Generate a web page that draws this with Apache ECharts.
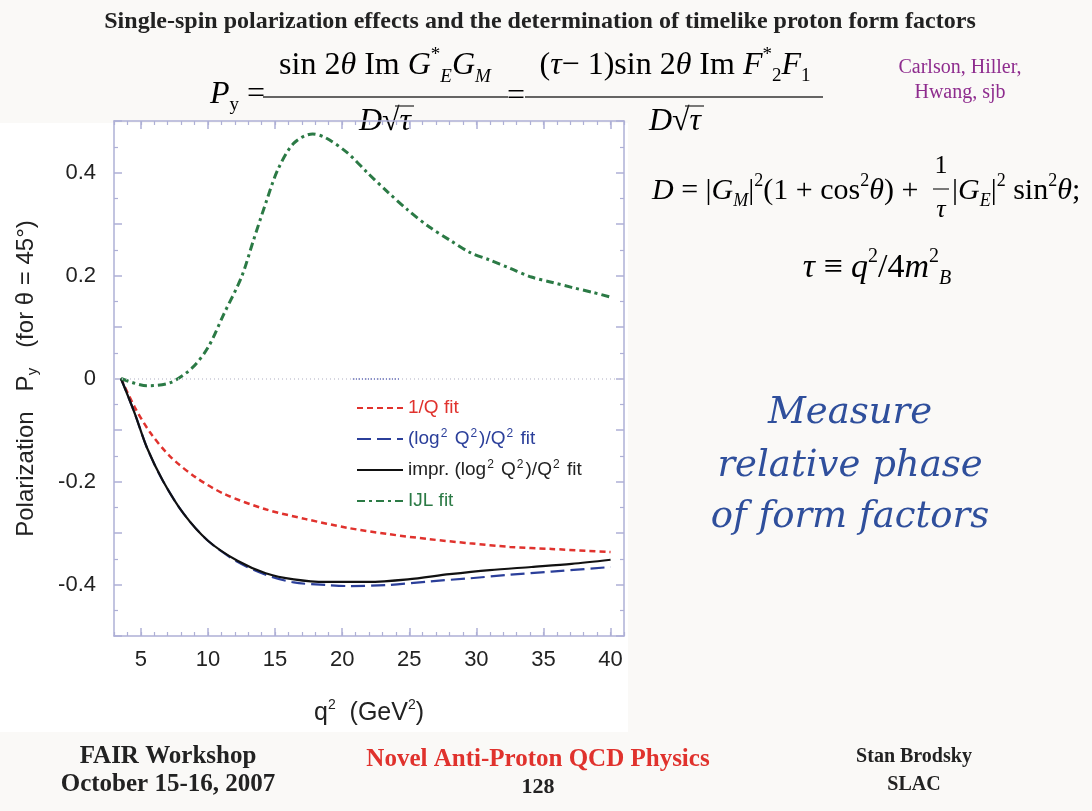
<!DOCTYPE html>
<html>
<head>
<meta charset="utf-8">
<script src="https://cdn.jsdelivr.net/npm/echarts@6/dist/echarts.min.js"></script>
<style>
    html, body { margin: 0; padding: 0; background: #faf9f7; }
    #chart { width: 1092px; height: 811px; }
</style>
</head>
<body>
<div id="chart"></div>
<script>
// values: q^2 in GeV^2, polarization P_y
var qRed = [3.52, 4.55, 5.75, 7.25, 9.1, 11.2, 14.3, 17.3, 20.4, 23.4, 26.5, 29.5, 32.5, 35.6, 40];
var pRed = [0, -0.056, -0.107, -0.153, -0.192, -0.224, -0.254, -0.273, -0.29, -0.302, -0.312, -0.32, -0.327, -0.331, -0.337];

var qBlue = [3.52, 4.55, 5.45, 6.65, 8.2, 10, 12.2, 14.3, 16.4, 18.8, 20.4, 23.4, 26.5, 29.5, 32.5, 35.6, 40];
var pBlue = [0, -0.068, -0.134, -0.199, -0.263, -0.315, -0.356, -0.381, -0.396, -0.401, -0.403, -0.401, -0.394, -0.388, -0.381, -0.375, -0.366];

var qBlack = [3.52, 4.55, 5.45, 6.65, 8.2, 10, 12.2, 14.3, 16.4, 18.8, 21.9, 24.9, 28, 31, 34.1, 37.1, 40];
var pBlack = [0, -0.068, -0.134, -0.199, -0.263, -0.315, -0.354, -0.378, -0.39, -0.395, -0.395, -0.39, -0.38, -0.372, -0.366, -0.36, -0.352];

var qGreen = [3.52, 5.45, 7.2, 8.8, 10, 11.2, 12.5, 13.4, 14.3, 15.2, 16.4, 17.8, 18.8, 20.4, 21.9, 23.4, 24.9, 26.5, 28, 29.5, 31, 32.5, 34.1, 35.6, 37.1, 38.7, 40];
var pGreen = [0, -0.014, -0.008, 0.02, 0.06, 0.126, 0.197, 0.269, 0.34, 0.405, 0.457, 0.475, 0.467, 0.438, 0.399, 0.362, 0.327, 0.294, 0.269, 0.245, 0.23, 0.214, 0.197, 0.187, 0.177, 0.167, 0.158];

var seriesNames = ['1/Q fit', '(log\u00b2 Q\u00b2)/Q\u00b2 fit', 'impr. (log\u00b2 Q\u00b2)/Q\u00b2 fit', 'IJL fit'];
var xTicks = [5, 10, 15, 20, 25, 30, 35, 40];
var yTicks = [-0.4, -0.2, 0, 0.2, 0.4];

(function(global) {
    var frameColor = '#aeb0d6';
    var mathFont = 'Liberation Serif';

    function zip(xs, ys) {
        var out = [];
        for (var i = 0; i < xs.length; i++) {
            out.push([xs[i], ys[i]]);
        }
        return out;
    }

    // rich styles shared by the formula texts
    function mathRich(size) {
        var small = Math.round(size * 0.6);
        return {
            n: { fontFamily: mathFont, fontSize: size, color: '#222', lineHeight: size + 8 },
            i: { fontFamily: mathFont, fontSize: size, fontStyle: 'italic', color: '#222', lineHeight: size + 8 },
            sup: { fontFamily: mathFont, fontSize: small, color: '#222', verticalAlign: 'top', lineHeight: small },
            sub: { fontFamily: mathFont, fontSize: small, color: '#222', verticalAlign: 'bottom', lineHeight: small },
            subi: { fontFamily: mathFont, fontSize: small, fontStyle: 'italic', color: '#222', verticalAlign: 'bottom', lineHeight: small }
        };
    }

    var texts = {
        plain: function(x, y, str, opts) {
            return {
                type: 'text', x: x, y: y, silent: true,
                style: {
                    text: str,
                    fill: opts.color || '#222',
                    fontFamily: opts.family || mathFont,
                    fontSize: opts.size || 20,
                    fontWeight: opts.weight || 'normal',
                    fontStyle: opts.style || 'normal',
                    textAlign: opts.align || 'center',
                    textVerticalAlign: 'middle'
                }
            };
        },
        math: function(x, y, str, size, align) {
            return {
                type: 'text', x: x, y: y, silent: true,
                style: {
                    text: str,
                    rich: mathRich(size),
                    textAlign: align || 'center',
                    textVerticalAlign: 'middle'
                }
            };
        },
        bar: function(x1, x2, y) {
            return {
                type: 'line', silent: true,
                shape: { x1: x1, y1: y, x2: x2, y2: y },
                style: { stroke: '#333', lineWidth: 1.3 }
            };
        }
    };

    var slide = {
        build: function() {
            var hand = { size: 37, family: 'DejaVu Serif', style: 'italic', color: '#2f4f9c' };
            return [
                { type: 'rect', silent: true, z: -10, shape: { x: 0, y: 123, width: 628, height: 609 }, style: { fill: '#ffffff' } },
                texts.plain(540, 22, 'Single-spin polarization effects and the determination of timelike proton form factors', { size: 24, weight: 'bold' }),

                texts.math(210, 95, '{i|P}{sub|y}{n| =}', 32, 'left'),
                texts.math(385, 66, '{n|sin 2}{i|\u03b8}{n| Im }{i|G}{sup|*}{subi|E}{i|G}{subi|M}', 32),
                texts.bar(263, 508, 97),
                texts.math(385, 122, '{i|D}{n|\u221a}{i|\u03c4}', 32),
                texts.bar(395, 414, 106),
                texts.math(516, 97, '{n|=}', 32),
                texts.math(675, 66, '{n|(}{i|\u03c4}{n|\u2212 1)sin 2}{i|\u03b8}{n| Im }{i|F}{sup|*}{sub|2}{i|F}{sub|1}', 32),
                texts.bar(525, 823, 97),
                texts.math(675, 122, '{i|D}{n|\u221a}{i|\u03c4}', 32),
                texts.bar(685, 704, 106),

                texts.plain(960, 68, 'Carlson, Hiller,', { size: 20, color: '#8e2c8e' }),
                texts.plain(960, 93, 'Hwang, sjb', { size: 20, color: '#8e2c8e' }),

                texts.math(652, 191, '{i|D}{n| = |}{i|G}{subi|M}{n||}{sup|2}{n|(1 + cos}{sup|2}{i|\u03b8}{n|) + }', 30, 'left'),
                texts.math(941, 166, '{n|1}', 26),
                texts.bar(933, 949, 189),
                texts.math(941, 210, '{i|\u03c4}', 26),
                texts.math(952, 191, '{n||}{i|G}{subi|E}{n||}{sup|2}{n| sin}{sup|2}{i|\u03b8}{n|;}', 30, 'left'),
                texts.math(877, 268, '{i|\u03c4}{n| \u2261 }{i|q}{sup|2}{n|/4}{i|m}{sup|2}{subi|B}', 34),

                texts.plain(850, 413, 'Measure', hand),
                texts.plain(850, 466, 'relative phase', hand),
                texts.plain(850, 517, 'of form factors', hand),

                texts.plain(168, 757, 'FAIR Workshop', { size: 25, weight: 'bold' }),
                texts.plain(168, 785, 'October 15-16, 2007', { size: 25, weight: 'bold' }),
                texts.plain(538, 760, 'Novel Anti-Proton QCD Physics', { size: 25, weight: 'bold', color: '#e0322d' }),
                texts.plain(538, 787, '128', { size: 22, weight: 'bold' }),
                texts.plain(914, 757, 'Stan Brodsky', { size: 20, weight: 'bold' }),
                texts.plain(914, 785, 'SLAC', { size: 20, weight: 'bold' })
            ];
        }
    };

    var chart = {
        draw: function(id) {
            var $chart = echarts.init(document.getElementById(id), null, { renderer: 'canvas' });
            $chart.setOption(this.generateOption());
        },
        frameAxis: function(position, extra) {
            var axis = {
                type: 'value',
                position: position,
                gridIndex: 0,
                axisLine: { show: true, onZero: false, lineStyle: { color: frameColor, width: 1.5 } },
                axisTick: { show: true, inside: true, length: 8, lineStyle: { color: frameColor, width: 1.5 } },
                axisLabel: { show: false },
                splitLine: { show: false }
            };
            for (var k in extra) {
                axis[k] = extra[k];
            }
            return axis;
        },
        // legend names with real superscripts
        legendText: function(name) {
            return name.replace(/\u00b2/g, '{s|2}');
        },
        generateOption: function() {
            var labelStyle = { color: '#222', fontFamily: 'Liberation Sans', fontSize: 22 };
            var xBase = { min: 3, max: 41 };
            var yBase = { min: -0.5, max: 0.5, interval: 0.1 };
            var minorX = { show: true, inside: true, length: 4, lineStyle: { color: frameColor, width: 1.2 } };
            var hiddenLine = { show: false, onZero: false };
            var that = this;
            return {
                animation: false,
                backgroundColor: 'transparent',
                grid: { left: 114, right: 468, top: 121, bottom: 175, containLabel: false },
                legend: {
                    orient: 'vertical',
                    left: 351,
                    top: 392,
                    itemWidth: 46,
                    itemHeight: 14,
                    itemGap: 9,
                    selectedMode: false,
                    itemStyle: { opacity: 0 },
                    formatter: function(name) {
                        return that.legendText(name);
                    },
                    textStyle: {
                        fontFamily: 'Liberation Sans', fontSize: 19, lineHeight: 22,
                        rich: {
                            s: { fontFamily: 'Liberation Sans', fontSize: 12, verticalAlign: 'top', lineHeight: 12, padding: [0, 2, 0, 1] }
                        }
                    },
                    data: [
                        { name: seriesNames[0], textStyle: { color: '#e0322d' } },
                        { name: seriesNames[1], textStyle: { color: '#2b3f9a' } },
                        { name: seriesNames[2], textStyle: { color: '#222' } },
                        { name: seriesNames[3], textStyle: { color: '#2b7a45' } }
                    ]
                },
                xAxis: [
                    this.frameAxis('bottom', {
                        min: xBase.min, max: xBase.max,
                        axisTick: { show: true, inside: true, length: 8, customValues: xTicks, lineStyle: { color: frameColor, width: 1.5 } },
                        axisLabel: { show: true, customValues: xTicks, margin: 13, color: labelStyle.color, fontFamily: labelStyle.fontFamily, fontSize: labelStyle.fontSize },
                        name: '{a|q}{s|2}{a|  (GeV}{s|2}{a|)}',
                        nameLocation: 'middle',
                        nameGap: 62,
                        nameTextStyle: {
                            rich: {
                                a: { fontFamily: 'Liberation Sans', fontSize: 25, color: '#222', lineHeight: 30 },
                                s: { fontFamily: 'Liberation Sans', fontSize: 14, color: '#222', verticalAlign: 'top', lineHeight: 14 }
                            }
                        }
                    }),
                    this.frameAxis('bottom', { min: xBase.min, max: xBase.max, interval: 1, axisLine: hiddenLine, axisTick: minorX }),
                    this.frameAxis('top', {
                        min: xBase.min, max: xBase.max,
                        axisTick: { show: true, inside: true, length: 8, customValues: xTicks, lineStyle: { color: frameColor, width: 1.5 } }
                    }),
                    this.frameAxis('top', { min: xBase.min, max: xBase.max, interval: 1, axisLine: hiddenLine, axisTick: minorX })
                ],
                yAxis: [
                    this.frameAxis('left', {
                        min: yBase.min, max: yBase.max, interval: yBase.interval,
                        minorTick: { show: true, splitNumber: 2, length: 4, lineStyle: { color: frameColor, width: 1.2 } },
                        axisLabel: {
                            show: true, customValues: yTicks, margin: 18,
                            color: labelStyle.color, fontFamily: labelStyle.fontFamily, fontSize: labelStyle.fontSize,
                            formatter: function(v) {
                                return Math.abs(v) < 1e-9 ? '0' : v.toFixed(1);
                            }
                        },
                        name: '{a|Polarization   P}{s|y}{a|   (for \u03b8 = 45\u00b0)}',
                        nameLocation: 'middle',
                        nameGap: 74,
                        nameTextStyle: {
                            rich: {
                                a: { fontFamily: 'Liberation Sans', fontSize: 24, color: '#222', lineHeight: 28 },
                                s: { fontFamily: 'Liberation Sans', fontSize: 15, color: '#222', verticalAlign: 'bottom', lineHeight: 15 }
                            }
                        }
                    }),
                    this.frameAxis('right', {
                        min: yBase.min, max: yBase.max, interval: yBase.interval,
                        minorTick: { show: true, splitNumber: 2, length: 4, lineStyle: { color: frameColor, width: 1.2 } }
                    })
                ],
                graphic: slide.build(),
                series: [
                    {
                        name: seriesNames[0], type: 'line', smooth: 0.3, symbol: 'none',
                        data: zip(qRed, pRed),
                        lineStyle: { color: '#e0322d', width: 2.5, type: [6, 4] },
                        itemStyle: { color: '#e0322d' },
                        markLine: {
                            silent: true, symbol: 'none', label: { show: false },
                            data: [
                                { yAxis: 0, lineStyle: { type: [1, 3], color: '#c9c9d6', width: 1.5 } },
                                [{ coord: [20.8, 0], lineStyle: { type: [1, 2], color: '#7f86c4', width: 1.8 } }, { coord: [24.3, 0] }]
                            ]
                        }
                    },
                    {
                        name: seriesNames[1], type: 'line', smooth: 0.3, symbol: 'none',
                        data: zip(qBlue, pBlue),
                        lineStyle: { color: '#2b3f9a', width: 2.2, type: [14, 6] },
                        itemStyle: { color: '#2b3f9a' }
                    },
                    {
                        name: seriesNames[2], type: 'line', smooth: 0.3, symbol: 'none',
                        data: zip(qBlack, pBlack),
                        lineStyle: { color: '#111', width: 2.2, type: 'solid' },
                        itemStyle: { color: '#111' }
                    },
                    {
                        name: seriesNames[3], type: 'line', smooth: 0.3, symbol: 'none',
                        data: zip(qGreen, pGreen),
                        lineStyle: { color: '#2b7a45', width: 3, type: [8, 4, 3, 4] },
                        itemStyle: { color: '#2b7a45' }
                    }
                ]
            };
        }
    };

    global.chart = chart;
})(this);

chart.draw('chart');
</script>
</body>
</html>
